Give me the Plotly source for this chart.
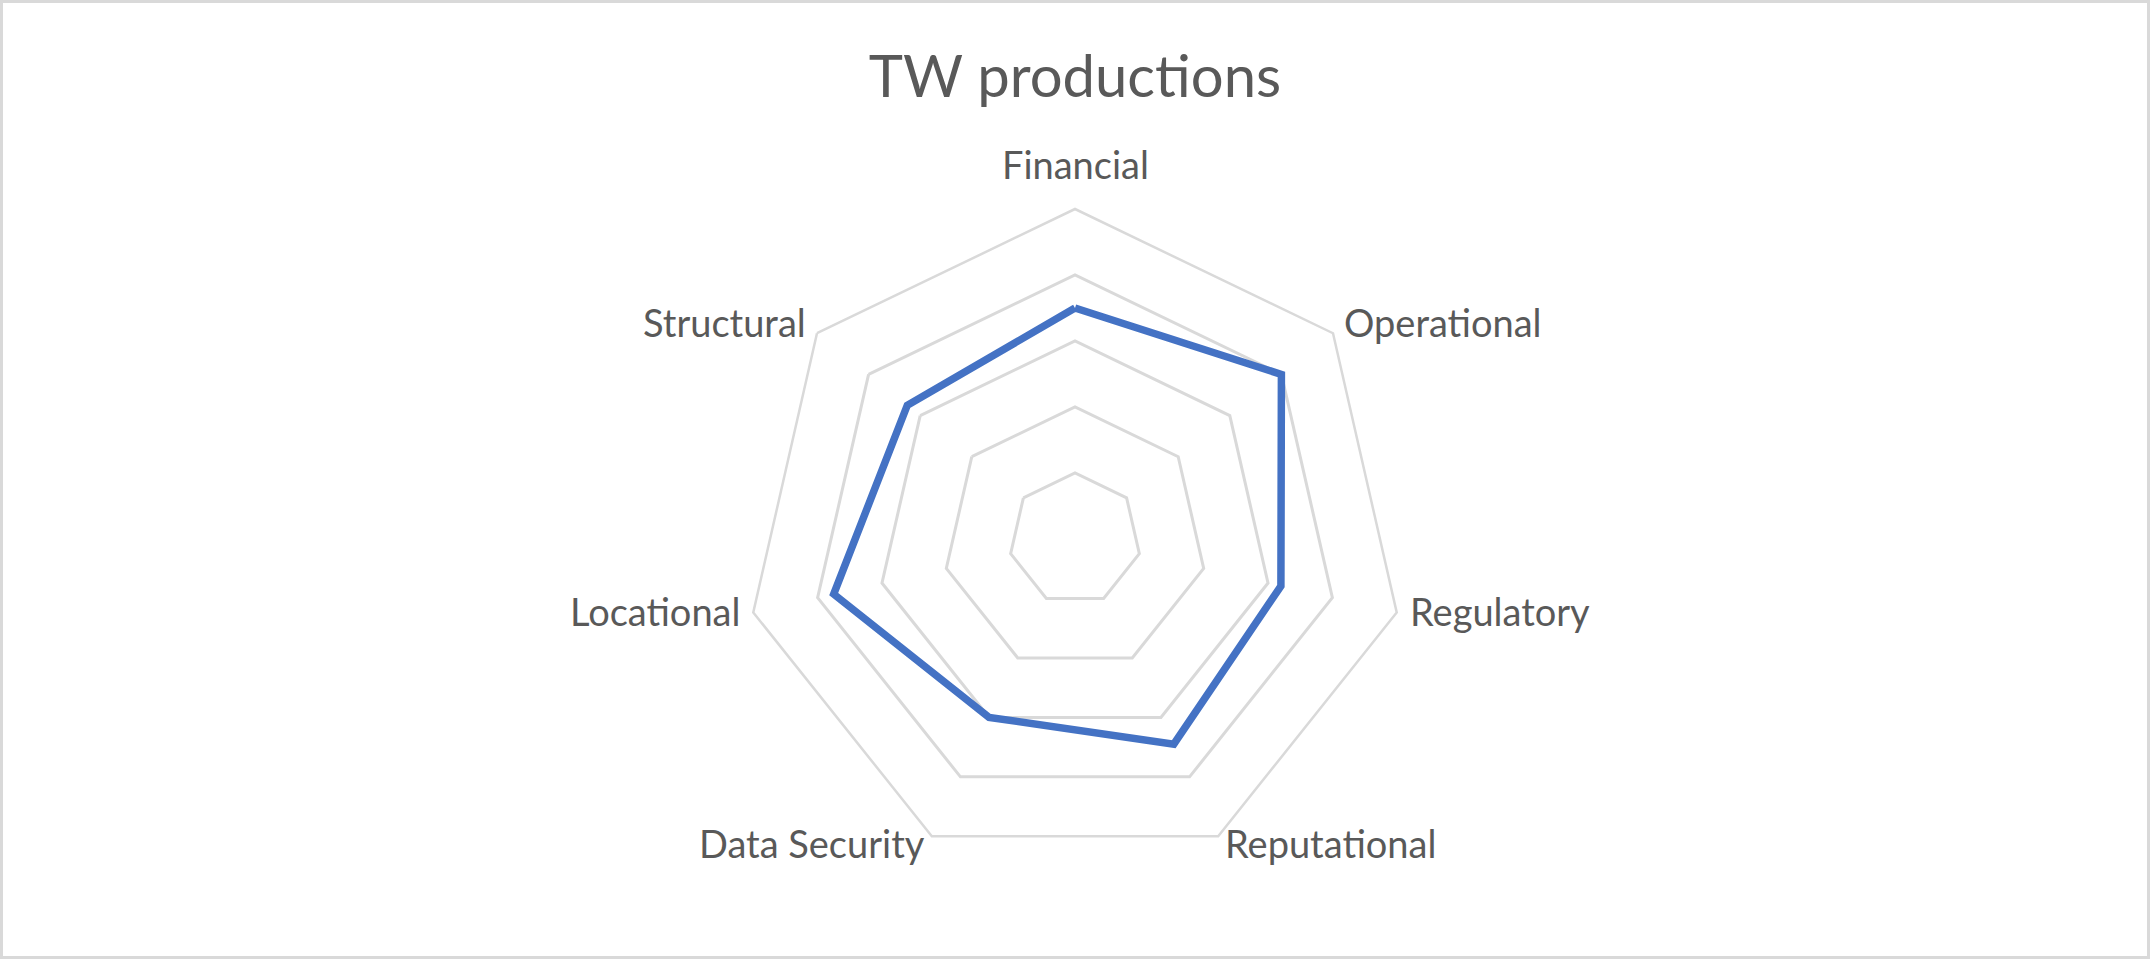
import math
import plotly.graph_objects as go

categories = ["Financial", "Operational", "Regulatory", "Reputational",
              "Data Security", "Locational", "Structural"]
values = [3.5, 4.0, 3.2, 3.45, 3.0, 3.75, 3.25]
title_text = "TW productions"

W, H = 2150, 959
cx, cy, R = 1075, 539, 330
TEXT = "#595959"
GRID = "#D9D9D9"

theta = categories + [categories[0]]
r = values + [values[0]]

fig = go.Figure()
fig.add_trace(go.Scatterpolar(
    r=r, theta=theta, mode="lines",
    line=dict(color="#4472C4", width=7.5),
    showlegend=False, hoverinfo="skip",
))

# category labels placed around the polygon, Excel-style
annotations = []
n = len(categories)
for i, cat in enumerate(categories):
    ang = math.radians(90 - i * 360 / n)
    c, s = math.cos(ang), math.sin(ang)
    if abs(c) < 0.1:
        rad = R + 41
        xa = "center"
    else:
        rad = R + 12
        xa = "left" if c > 0 else "right"
    px = cx + rad * c
    py = cy - rad * s - 4
    annotations.append(dict(
        text=cat, x=px / W, y=1 - py / H, xref="paper", yref="paper",
        xanchor=xa, yanchor="middle", showarrow=False,
        font=dict(family="Lato", size=38, color=TEXT),
    ))

fig.update_layout(
    width=W, height=H,
    margin=dict(l=0, r=0, t=0, b=0),
    paper_bgcolor="white",
    font=dict(family="Lato", color=TEXT),
    title=dict(text=title_text, x=0.5, xanchor="center",
               y=1 - 77 / H, yanchor="middle", yref="container",
               font=dict(family="Lato", size=58, color=TEXT)),
    polar=dict(
        domain=dict(x=[(cx - R) / W, (cx + R) / W],
                    y=[(H - cy - R) / H, (H - cy + R) / H]),
        bgcolor="white",
        gridshape="linear",
        radialaxis=dict(range=[0, 5], dtick=1, showticklabels=False,
                        ticks="", showline=False,
                        gridcolor=GRID, gridwidth=2.5),
        angularaxis=dict(rotation=90, direction="clockwise",
                         showgrid=False, ticks="", showticklabels=False,
                         showline=True, linecolor=GRID, linewidth=2.5),
    ),
    annotations=annotations,
    shapes=[dict(type="rect", xref="paper", yref="paper",
                 x0=1.5 / W, x1=1 - 1.5 / W, y0=1.5 / H, y1=1 - 1.5 / H,
                 line=dict(color=GRID, width=3), fillcolor="rgba(0,0,0,0)")],
)

fig.write_html("out.html")
